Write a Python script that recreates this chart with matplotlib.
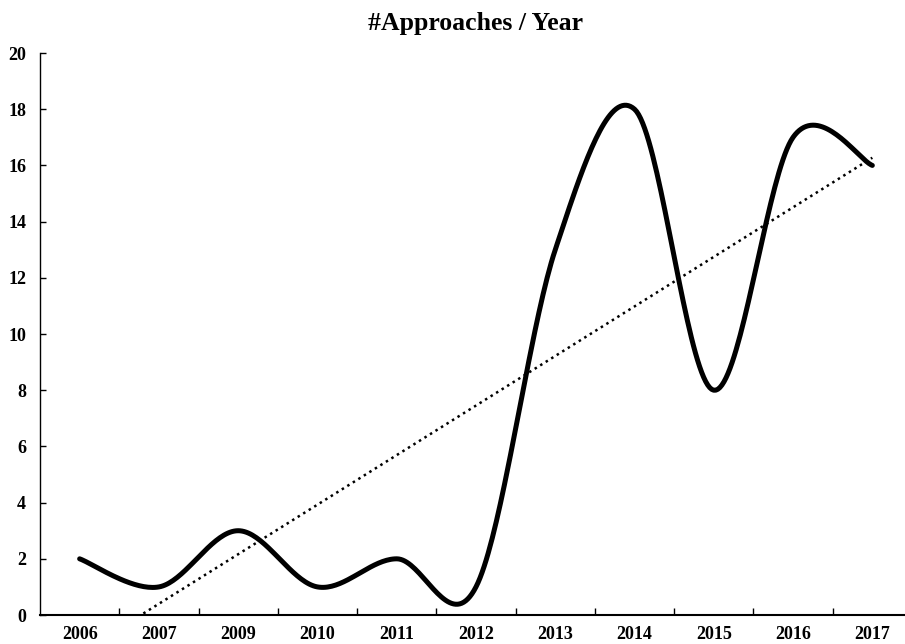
import matplotlib
matplotlib.use("Agg")
import matplotlib.pyplot as plt
import numpy as np

years = ["2006", "2007", "2009", "2010", "2011", "2012",
         "2013", "2014", "2015", "2016", "2017"]
approaches = [2, 1, 3, 1, 2, 1, 13, 18, 8, 17, 16]
y_ticks = [0, 2, 4, 6, 8, 10, 12, 14, 16, 18, 20]


def smooth_curve(x, y, n=40):
    # excel-like smoothed line (catmull-rom as cubic bezier)
    x = np.asarray(x, float)
    y = np.asarray(y, float)
    px = np.concatenate([[x[0]], x, [x[-1]]])
    py = np.concatenate([[y[0]], y, [y[-1]]])
    xs, ys = [], []
    t = np.linspace(0, 1, n)
    for i in range(1, len(px) - 2):
        p0 = np.array([px[i], py[i]])
        p3 = np.array([px[i + 1], py[i + 1]])
        p1 = p0 + (np.array([px[i + 1], py[i + 1]]) - np.array([px[i - 1], py[i - 1]])) / 6
        p2 = p3 - (np.array([px[i + 2], py[i + 2]]) - np.array([px[i], py[i]])) / 6
        b = ((1 - t) ** 3)[:, None] * p0 + (3 * (1 - t) ** 2 * t)[:, None] * p1 \
            + (3 * (1 - t) * t ** 2)[:, None] * p2 + (t ** 3)[:, None] * p3
        xs.extend(b[:, 0])
        ys.extend(b[:, 1])
    return np.array(xs), np.array(ys)


def main():
    plt.rcParams['font.family'] = ['Liberation Serif', 'DejaVu Serif']
    plt.rcParams['font.weight'] = 'bold'

    fig = plt.figure(figsize=(9.05, 6.44), dpi=100)
    ax = fig.add_axes([0.0442, 0.045, 0.9635, 0.8727])

    x = np.arange(len(years))
    sx, sy = smooth_curve(x, approaches)
    ax.plot(sx, sy, color="black", linewidth=3.6, solid_capstyle="round", zorder=3)

    # linear trendline
    slope, intercept = np.polyfit(x + 1, approaches, 1)
    tx = np.linspace(0, len(years) - 1, 200)
    ty = slope * (tx + 1) + intercept
    keep = ty >= 0
    ax.plot(tx[keep], ty[keep], color="black", linewidth=1.8, linestyle=(0, (1, 1.6)), zorder=2)

    ax.set_xlim(-0.5, len(years) - 0.5)
    ax.set_ylim(0, 20)
    ax.set_yticks(y_ticks)
    ax.set_xticks(x)
    ax.set_xticklabels(years)
    ax.set_xticks(np.arange(len(years) - 1) + 0.5, minor=True)
    ax.tick_params(axis="x", which="major", length=0, labelsize=13, pad=8)
    ax.tick_params(axis="x", which="minor", length=5, direction="in", width=1)
    ax.tick_params(axis="y", length=4, direction="in", width=1, labelsize=13, pad=10)

    ax.spines["top"].set_visible(False)
    ax.spines["right"].set_visible(False)
    ax.spines["left"].set_linewidth(1)
    ax.spines["bottom"].set_linewidth(1.5)

    ax.set_title("#Approaches / Year", fontsize=18.5, fontweight="bold", pad=16.5)
    fig.savefig("out.png", dpi=100)


if __name__ == "__main__":
    main()
